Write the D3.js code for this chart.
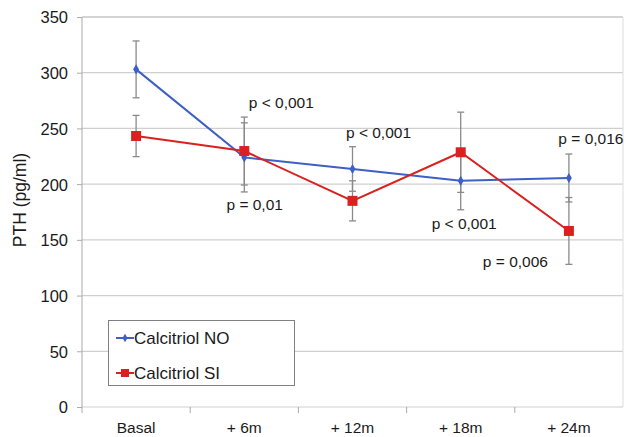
<!DOCTYPE html>
<html><head><meta charset="utf-8">
<script src="https://cdn.jsdelivr.net/npm/d3@7"></script>
<style>body{margin:0;background:#fff}svg{display:block}text{font-family:"Liberation Sans",Arial,Helvetica,sans-serif;fill:#1a1a1a}</style>
</head><body>
<svg id="c" width="626" height="437"></svg>
<script>
const categories = ["Basal", "+ 6m", "+ 12m", "+ 18m", "+ 24m"];
const seriesNames = ["Calcitriol NO", "Calcitriol SI"];
const valuesNO = [303, 224, 213.6, 203, 205.5];
const errorsNO = [25.5, 31, 20, 26, 21.5];
const valuesSI = [243.2, 229.7, 185, 228.6, 158];
const errorsSI = [18.5, 30.5, 18, 36, 30];
const yTicks = [0, 50, 100, 150, 200, 250, 300, 350];
const pLabels = ["p < 0,001", "p = 0,01", "p < 0,001", "p < 0,001", "p = 0,016", "p = 0,006"];
const pCats = ["+ 6m", "+ 6m", "+ 12m", "+ 18m", "+ 24m", "+ 24m"];
const pValuesAt = [273, 181.3, 245.9, 164.2, 240.5, 130.1];
const pShift = [37, 10.4, 26, 3.5, 22, -53.5];

const svg = d3.select("#c");
const L = 82, R = 623, T = 17, B = 407;
const x = d3.scaleBand().domain(categories).range([L, R]).paddingInner(0).paddingOuter(0);
const y = d3.scaleLinear().domain([0, 350]).range([B, T]);
const cx = c => x(c) + x.bandwidth() / 2;

// gridlines
svg.append("g").selectAll("line").data(yTicks).join("line")
  .attr("x1", L).attr("x2", R).attr("y1", d => y(d)).attr("y2", d => y(d))
  .attr("stroke", d => d === 350 ? "#aaa" : "#cfcfcf").attr("stroke-width", 1.2);
// right border
svg.append("line").attr("x1", R).attr("x2", R).attr("y1", T).attr("y2", B).attr("stroke", "#ddd");

// y axis
const yAxis = d3.axisLeft(y).tickValues(yTicks).tickSize(5).tickPadding(9);
const gy = svg.append("g").attr("transform", `translate(${L},0)`).call(yAxis);
gy.select(".domain").attr("stroke", "#aaa").attr("d", `M-0,${T}V${B + 6}`);
gy.selectAll(".tick line").attr("stroke", "#aaa");
gy.selectAll(".tick text").attr("font-size", 16.5).attr("dy", "0.36em").style("fill", "#1a1a1a");

// x axis
const xb = d3.scaleLinear().domain([0, 5]).range([L, R]);
const gx = svg.append("g");
gx.selectAll("line").data([1, 2, 3, 4]).join("line")
  .attr("x1", d => xb(d)).attr("x2", d => xb(d)).attr("y1", B).attr("y2", B + 6).attr("stroke", "#aaa");
gx.selectAll("text").data(categories).join("text")
  .attr("x", d => cx(d)).attr("y", 433).attr("text-anchor", "middle").attr("font-size", 15.5).text(d => d);

// y title
svg.append("text").attr("transform", "translate(26,200) rotate(-90)").attr("text-anchor", "middle")
  .attr("font-size", 17.5).text("PTH (pg/ml)");

// error bars
function errBars(vals, errs) {
  const g = svg.append("g").attr("stroke", "#8a8a8a").attr("stroke-width", 1.3);
  categories.forEach((c, i) => {
    const X = cx(c), t = y(vals[i] + errs[i]), b = y(vals[i] - errs[i]);
    g.append("line").attr("x1", X).attr("x2", X).attr("y1", t).attr("y2", b);
    g.append("line").attr("x1", X - 3.5).attr("x2", X + 3.5).attr("y1", t).attr("y2", t);
    g.append("line").attr("x1", X - 3.5).attr("x2", X + 3.5).attr("y1", b).attr("y2", b);
  });
}
errBars(valuesNO, errorsNO);
errBars(valuesSI, errorsSI);

const blue = "#3d5fc6", red = "#d92120";
const line = d3.line().x((d, i) => cx(categories[i])).y(d => y(d));
svg.append("path").datum(valuesNO).attr("d", line).attr("fill", "none").attr("stroke", blue).attr("stroke-width", 2);
svg.append("path").datum(valuesSI).attr("d", line).attr("fill", "none").attr("stroke", red).attr("stroke-width", 2);
svg.append("g").selectAll("path").data(valuesNO).join("path")
  .attr("d", d3.symbol(d3.symbolDiamond, 30)).attr("fill", blue)
  .attr("transform", (d, i) => `translate(${cx(categories[i])},${y(d)})`);
svg.append("g").selectAll("rect").data(valuesSI).join("rect")
  .attr("x", (d, i) => cx(categories[i]) - 5).attr("y", d => y(d) - 5).attr("width", 10).attr("height", 10).attr("fill", red);

// p labels
svg.append("g").selectAll("text").data(pLabels).join("text")
  .attr("x", (d, i) => cx(pCats[i]) + pShift[i]).attr("y", (d, i) => y(pValuesAt[i]))
  .attr("text-anchor", "middle").attr("dy", "0.35em").attr("font-size", 15.5).text(d => d);

// legend
const lg = svg.append("g");
lg.append("rect").attr("x", 108.5).attr("y", 320.5).attr("width", 186).attr("height", 65)
  .attr("fill", "#fff").attr("stroke", "#808080").attr("stroke-width", 1);
[[blue, 338], [red, 373]].forEach(([col, yy], i) => {
  lg.append("line").attr("x1", 116).attr("x2", 134).attr("y1", yy).attr("y2", yy).attr("stroke", col).attr("stroke-width", 2);
  if (i === 0) lg.append("path").attr("d", d3.symbol(d3.symbolDiamond, 22)).attr("fill", col).attr("transform", `translate(125,${yy})`);
  else lg.append("rect").attr("x", 121).attr("y", yy - 4).attr("width", 8).attr("height", 8).attr("fill", col);
  lg.append("text").attr("x", 134).attr("y", yy).attr("dy", "0.36em").attr("font-size", 17).text(seriesNames[i]);
});
</script>
</body></html>
